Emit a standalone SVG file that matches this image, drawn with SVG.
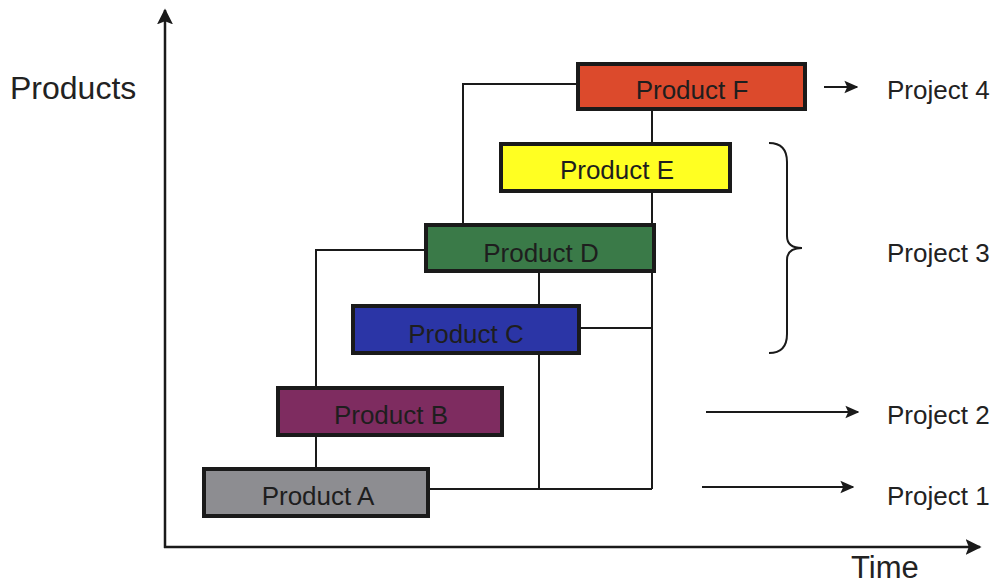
<svg xmlns="http://www.w3.org/2000/svg" width="995" height="585" viewBox="0 0 995 585">
  <style>
    .axis { stroke: #1a1a1a; stroke-width: 2.5; fill: none; }
    .link { stroke: #1a1a1a; stroke-width: 2; fill: none; }
    .box { stroke: #1a1a1a; stroke-width: 4; }
    .lbl { font-family: "Liberation Sans", Arial, sans-serif; font-size: 26px; fill: #1e1e1e; text-anchor: middle; }
    .side { font-family: "Liberation Sans", Arial, sans-serif; font-size: 26px; fill: #222; }
    .title { font-family: "Liberation Sans", Arial, sans-serif; fill: #222; }
  </style>
  <defs>
    <marker id="head" viewBox="0 0 10 10" refX="9" refY="5" markerWidth="14" markerHeight="14" markerUnits="userSpaceOnUse" orient="auto">
      <path d="M0,0.5 L10,5 L0,9.5 L2,5 z" fill="#1a1a1a"/>
    </marker>
    <marker id="bighead" viewBox="0 0 10 10" refX="9" refY="5" markerWidth="16" markerHeight="16" markerUnits="userSpaceOnUse" orient="auto">
      <path d="M0,0 L10,5 L0,10 L2,5 z" fill="#1a1a1a"/>
    </marker>
  </defs>

  <rect width="995" height="585" fill="#ffffff"/>

  <!-- axes -->
  <g id="axes">
    <line class="axis" x1="165" y1="548" x2="165" y2="10" marker-end="url(#bighead)"/>
    <line class="axis" x1="164" y1="547" x2="980" y2="547" marker-end="url(#bighead)"/>
    <text class="title" x="10" y="99" font-size="32">Products</text>
    <text class="title" x="851" y="578" font-size="31">Time</text>
  </g>

  <!-- connectors between products -->
  <g id="connectors">
    <polyline class="link" points="576,84 463,84 463,223"/>
    <line class="link" x1="652" y1="111" x2="652" y2="489"/>
    <line class="link" x1="429" y1="489" x2="652" y2="489"/>
    <line class="link" x1="581" y1="328" x2="652" y2="328"/>
    <line class="link" x1="539" y1="273" x2="539" y2="489"/>
    <polyline class="link" points="424,250 316,250 316,467"/>
  </g>

  <!-- products -->
  <g id="product-a">
    <rect class="box" x="204" y="469" width="224" height="47" fill="#8d8d91"/>
    <text class="lbl" x="318" y="505">Product A</text>
  </g>
  <g id="product-b">
    <rect class="box" x="278" y="388" width="224" height="47" fill="#7e2c60"/>
    <text class="lbl" x="391" y="424">Product B</text>
  </g>
  <g id="product-c">
    <rect class="box" x="353" y="306" width="226" height="47" fill="#2b35a6"/>
    <text class="lbl" x="466" y="343">Product C</text>
  </g>
  <g id="product-d">
    <rect class="box" x="426" y="225" width="228" height="46" fill="#3a7a48"/>
    <text class="lbl" x="541" y="262">Product D</text>
  </g>
  <g id="product-e">
    <rect class="box" x="501" y="144" width="229" height="47" fill="#ffff22"/>
    <text class="lbl" x="617" y="179">Product E</text>
  </g>
  <g id="product-f">
    <rect class="box" x="578" y="64" width="227" height="45" fill="#dc4a2c"/>
    <text class="lbl" x="692" y="99">Product F</text>
  </g>

  <!-- project annotations -->
  <g id="project-4">
    <line class="link" x1="824" y1="87" x2="857" y2="87" marker-end="url(#head)"/>
    <text class="side" x="887" y="99">Project 4</text>
  </g>
  <g id="project-3">
    <path class="link" d="M769,143 Q787,143 787,162 L787,236 Q787,248 802,248 Q787,248 787,260 L787,334 Q787,353 769,353"/>
    <text class="side" x="887" y="262">Project 3</text>
  </g>
  <g id="project-2">
    <line class="link" x1="706" y1="412" x2="858" y2="412" marker-end="url(#head)"/>
    <text class="side" x="887" y="424">Project 2</text>
  </g>
  <g id="project-1">
    <line class="link" x1="702" y1="487" x2="853" y2="487" marker-end="url(#head)"/>
    <text class="side" x="887" y="505">Project 1</text>
  </g>
</svg>
